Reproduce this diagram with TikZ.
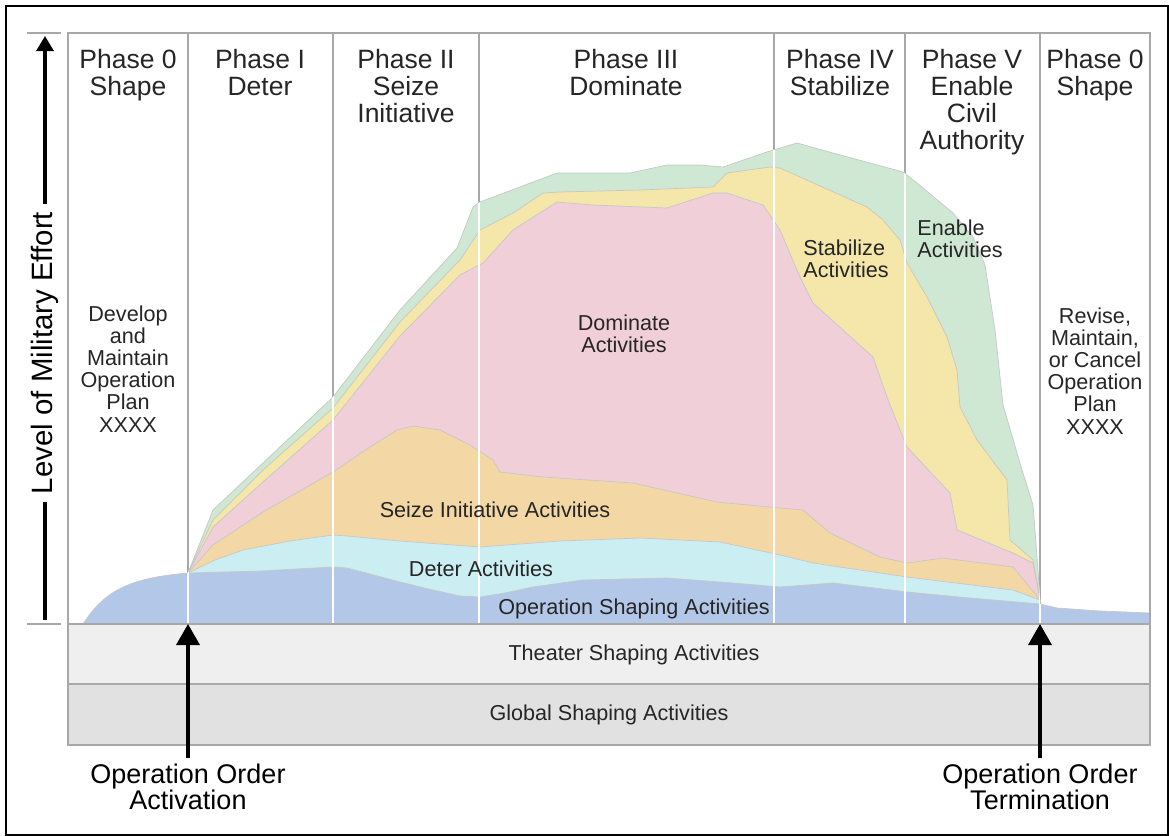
\documentclass[tikz,border=0pt]{standalone}
\usepackage{fontspec}
\setmainfont{Liberation Sans}
\usetikzlibrary{arrows.meta}

\definecolor{opblue}{HTML}{B3C7E8}
\definecolor{detercyan}{HTML}{CBEEF3}
\definecolor{seizeorange}{HTML}{F3D8A6}
\definecolor{dompink}{HTML}{F1CFD9}
\definecolor{stabyellow}{HTML}{F4E7A9}
\definecolor{enablegreen}{HTML}{CFE8D3}
\definecolor{framegray}{HTML}{A8A8A8}
\definecolor{theatergray}{HTML}{EFEFEF}
\definecolor{globalgray}{HTML}{E1E1E1}
\definecolor{textgray}{HTML}{262626}

% upper edges of the stacked effort areas (pixel units)
\newcommand{\blueedge}{(83,624) .. controls (105,590) and (130,578) .. (188,573) -- (260,571) -- (333,567) -- (347,568) -- (370,574) -- (400,582) -- (433,590) -- (460,596) -- (480,597) -- (505,593) -- (533,587) -- (583,580) -- (667,578) -- (733,583) -- (780,587) -- (833,583) -- (907,592) -- (970,598) -- (1040,604) -- (1057,608) -- (1100,611) -- (1150,613)}
\newcommand{\cyanedge}{(188,573) -- (215,560) -- (243,550) -- (290,541) -- (333,535) -- (347,536) -- (400,541) -- (480,547) -- (560,541) -- (640,538) -- (720,542) -- (780,555) -- (813,563) -- (907,577) -- (1013,590) -- (1040,600)}
\newcommand{\orangeedge}{(188,573) -- (213,545) -- (263,512) -- (333,472) -- (370,447) -- (397,430) -- (413,426) -- (440,430) -- (470,445) -- (493,460) -- (500,472) -- (543,477) -- (633,483) -- (717,502) -- (780,508) -- (803,510) -- (830,533) -- (880,557) -- (907,563) -- (943,558) -- (1013,567) -- (1040,600)}
\newcommand{\pinkedge}{(188,573) -- (213,527) -- (263,482) -- (333,420) -- (400,336) -- (460,275) -- (483,263) -- (513,230) -- (557,202) -- (593,205) -- (667,208) -- (713,193) -- (727,193) -- (763,205) -- (780,230) -- (800,277) -- (813,303) -- (843,330) -- (873,357) -- (887,397) -- (900,430) -- (907,447) -- (950,493) -- (957,530) -- (1013,553) -- (1033,563) -- (1040,600)}
\newcommand{\yellowedge}{(188,573) -- (213,520) -- (263,470) -- (333,408) -- (400,322) -- (460,260) -- (480,230) -- (513,213) -- (543,193) -- (560,192) -- (640,190) -- (713,187) -- (727,173) -- (770,167) -- (780,168) -- (867,207) -- (883,220) -- (900,240) -- (907,263) -- (927,297) -- (947,337) -- (957,370) -- (960,407) -- (977,440) -- (1007,480) -- (1010,540) -- (1033,560) -- (1040,600)}
\newcommand{\greenedge}{(188,573) -- (213,510) -- (263,463) -- (333,397) -- (400,310) -- (457,248) -- (473,207) -- (480,202) -- (557,173) -- (630,173) -- (667,165) -- (700,165) -- (723,167) -- (767,152) -- (797,143) -- (833,153) -- (903,172) -- (917,183) -- (953,213) -- (973,237) -- (985,265) -- (995,330) -- (1003,405) -- (1022,470) -- (1033,505) -- (1037,557) -- (1040,600)}

\begin{document}
\begin{tikzpicture}[x=0.5pt,y=-0.5pt,
  header/.style={font=\fontsize{13.25}{13.5}\selectfont, text=textgray, align=center, anchor=north, inner sep=0pt},
  bodytext/.style={font=\fontsize{10.8}{11.1}\selectfont, text=textgray, align=center, inner sep=0pt},
  bottomtext/.style={font=\fontsize{13.5}{12.75}\selectfont, text=black, align=center, anchor=north, inner sep=0pt},
  edge/.style={draw=black!22, line width=0.35pt},
  sep/.style={framegray, line width=0.8pt},
  whitesep/.style={white, line width=1.2pt},
  bigarrow/.style={line width=1.8pt, -{Triangle[width=11.5pt,length=10.5pt]}},
  axisarrow/.style={line width=1.6pt, -{Triangle[width=8.5pt,length=7.5pt]}}]
  \useasboundingbox (0,0) rectangle (1169,836);
  \draw[black, line width=0.6pt] (6,6) rectangle (1168,835);

  % phase separators and frame
  \fill[white] (68,33) rectangle (1150,624);
  \draw[sep] (188,33) -- (188,624);
  \draw[sep] (333,33) -- (333,624);
  \draw[sep] (479,33) -- (479,624);
  \draw[sep] (774,33) -- (774,624);
  \draw[sep] (905,33) -- (905,624);
  \draw[sep] (1040,33) -- (1040,624);

  % stacked areas
  \fill[enablegreen] \greenedge -- (1040,624) -- (188,624) -- cycle;
  \fill[stabyellow] \yellowedge -- (1040,624) -- (188,624) -- cycle;
  \fill[dompink] \pinkedge -- (1040,624) -- (188,624) -- cycle;
  \fill[seizeorange] \orangeedge -- (1040,624) -- (188,624) -- cycle;
  \fill[detercyan] \cyanedge -- (1040,624) -- (188,624) -- cycle;
  \fill[opblue] \blueedge -- (1150,624) -- cycle;
  \draw[edge] \greenedge;
  \draw[edge] \yellowedge;
  \draw[edge] \pinkedge;
  \draw[edge] \orangeedge;
  \draw[edge] \cyanedge;
  \draw[edge] \blueedge;

  \begin{scope}
    \clip \greenedge -- (1040,624) -- (188,624) -- cycle
          \blueedge -- (1150,624) -- cycle;
    \draw[whitesep] (188,33) -- (188,624);
    \draw[whitesep] (333,33) -- (333,624);
    \draw[whitesep] (479,33) -- (479,624);
    \draw[whitesep] (774,33) -- (774,624);
    \draw[whitesep] (905,33) -- (905,624);
    \draw[whitesep] (1040,33) -- (1040,624);
  \end{scope}

  % shaping bands
  \draw[framegray, line width=1pt, fill=theatergray] (68,624) rectangle (1150,684);
  \draw[framegray, line width=1pt, fill=globalgray] (68,684) rectangle (1150,745);
  \draw[framegray, line width=1pt] (68,624) -- (68,33) -- (1150,33) -- (1150,624);

  % phase headings
  \node[header] (ph0) at (128,49) {Phase 0\\Shape};
  \node[header] (ph1) at (260,49) {Phase I\\Deter};
  \node[header] (ph2) at (406,49) {Phase II\\Seize\\Initiative};
  \node[header] (ph3) at (626,49) {Phase III\\Dominate};
  \node[header] (ph4) at (840,49) {Phase IV\\Stabilize};
  \node[header] (ph5) at (972,49) {Phase V\\Enable\\Civil\\Authority};
  \node[header] (ph0b) at (1095,49) {Phase 0\\Shape};

  % area labels
  \node[bodytext, anchor=north] (develop) at (128,305) {Develop\\and\\Maintain\\Operation\\Plan\\XXXX};
  \node[bodytext, anchor=north] (revise) at (1095,307) {Revise,\\Maintain,\\or Cancel\\Operation\\Plan\\XXXX};
  \node[bodytext] (domlab) at (624,334) {Dominate\\Activities};
  \node[bodytext, align=left, anchor=north west] (stablab) at (803,239) {Stabilize\\Activities};
  \node[bodytext, align=left, anchor=north west] (enablab) at (917,219) {Enable\\Activities};
  \node[bodytext] (seizelab) at (495,510) {Seize Initiative Activities};
  \node[bodytext] (deterlab) at (481,569) {Deter Activities};
  \node[bodytext] (oplab) at (634,609) {Operation Shaping Activities};
  \node[bodytext] (theaterlab) at (634,655) {Theater Shaping Activities};
  \node[bodytext] (globallab) at (609,715) {Global Shaping Activities};

  % effort axis
  \node[rotate=90, font=\fontsize{14.7}{15}\selectfont, inner sep=4pt] (effort) at (45,353) {Level of Military Effort};
  \coordinate (axtop) at (45,36);
  \coordinate (axbot) at (45,620);
  \draw[line width=1.6pt] (axbot) -- (effort.west);
  \draw[axisarrow] (effort.east) -- (axtop);
  \draw[framegray, line width=0.8pt] (27,33) -- (61,33);
  \draw[framegray, line width=0.8pt] (27,624) -- (61,624);

  % operation order arrows
  \node[bottomtext] (activation) at (188,764) {Operation Order\\Activation};
  \node[bottomtext] (termination) at (1040,764) {Operation Order\\Termination};
  \coordinate (acttip) at (188,624);
  \coordinate (termtip) at (1040,624);
  \draw[bigarrow] ([yshift=3pt]activation.north) -- (acttip);
  \draw[bigarrow] ([yshift=3pt]termination.north) -- (termtip);
\end{tikzpicture}
\end{document}
